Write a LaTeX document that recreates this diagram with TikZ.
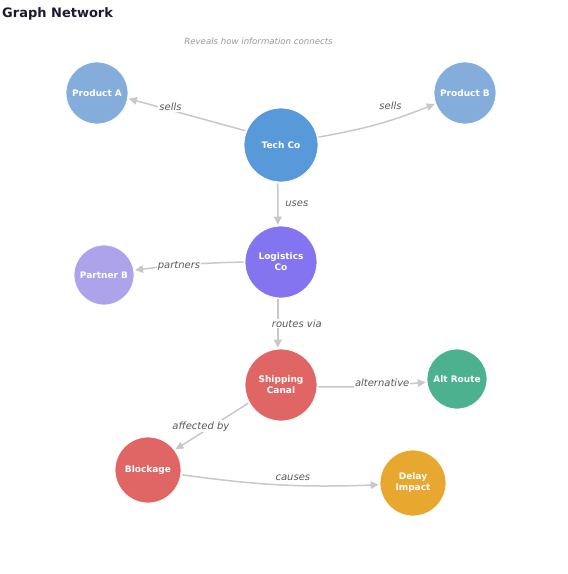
\documentclass[tikz,border=0pt]{standalone}
\usepackage{fontspec}
\setmainfont{DejaVu Sans}
\usepackage{xcolor}
\usetikzlibrary{arrows.meta}

\definecolor{prodblue}{HTML}{85ADDB}
\definecolor{techblue}{HTML}{5899DA}
\definecolor{logpurple}{HTML}{8474EF}
\definecolor{partpurple}{HTML}{ADA3EA}
\definecolor{canalred}{HTML}{E06666}
\definecolor{altgreen}{HTML}{4CB18F}
\definecolor{delayorange}{HTML}{E8A830}
\definecolor{linkgray}{HTML}{C8C8C8}
\definecolor{titlenavy}{HTML}{1B1B30}

\begin{document}
\begin{tikzpicture}[
    entity/.style={draw=white, line width=0.8pt, circle, inner sep=0pt, text=white, align=center, font=\fontsize{9}{11}\selectfont\bfseries},
    link/.style={draw=linkgray, line width=1.5pt, -{Triangle[length=8pt,width=7.5pt]}, shorten >=1pt, shorten <=1pt},
    elabel/.style={fill=white, inner sep=1pt, text=black!65, font=\fontsize{10}{12}\selectfont\itshape}
]
            \useasboundingbox (0,0) rectangle (568pt,-574pt);
            \node[anchor=base west, inner sep=0pt, text=titlenavy, font=\fontsize{13}{15}\selectfont\bfseries] (Title) at (2pt,-17.5pt) {Graph Network};
            \node[anchor=base, inner sep=0pt, text=black!40, font=\fontsize{8.6}{10}\selectfont\itshape] (Subtitle) at (258.5pt,-44pt) {Reveals how information connects};
            \node[entity, fill=techblue, minimum size=74pt] (TechCo) at (281pt,-145pt) {Tech Co};
            \node[entity, fill=prodblue, minimum size=62pt, node distance=184pt, left of=TechCo, yshift=52pt] (ProductA) {Product A};
            \node[entity, fill=prodblue, minimum size=62pt, node distance=184pt, right of=TechCo, yshift=52pt] (ProductB) {Product B};
            \node[entity, fill=logpurple, minimum size=72pt, node distance=117pt, below of=TechCo] (Logistics) {Logistics\\Co};
            \node[entity, fill=partpurple, minimum size=60pt, node distance=177pt, left of=Logistics, yshift=-13pt] (PartnerB) {Partner B};
            \node[entity, fill=canalred, minimum size=72pt, node distance=123pt, below of=Logistics] (Canal) {Shipping\\Canal};
            \node[entity, fill=altgreen, minimum size=60pt, node distance=176pt, right of=Canal, yshift=6pt] (AltRoute) {Alt Route};
            \node[entity, fill=canalred, minimum size=66pt, node distance=133pt, left of=Canal, yshift=-85pt] (Blockage) {Blockage};
            \node[entity, fill=delayorange, minimum size=66pt, node distance=265pt, right of=Blockage, yshift=-13pt] (Delay) {Delay\\Impact};
            \draw[link] (TechCo.158) -- node[elabel, pos=0.64, yshift=3pt] {sells} (ProductA.-10);
            \draw[link] (TechCo.12) to[bend right=6] node[elabel, pos=0.62, yshift=14pt] {sells} (ProductB.200);
            \draw[link] (TechCo.265) -- node[elabel, pos=0.5, xshift=19pt] {uses} (Logistics.95);
            \draw[link] (Logistics.180) to[bend right=3] node[elabel, pos=0.6, yshift=-1pt] {partners} (PartnerB.9);
            \draw[link] (Logistics.265) -- node[elabel, pos=0.5, xshift=19pt] {routes via} (Canal.95);
            \draw[link] (Canal.-3) to[bend right=3] node[elabel, pos=0.6, yshift=3pt] {alternative} (AltRoute.186);
            \draw[link] (Canal.209) -- node[elabel, pos=0.5, xshift=-11pt] {affected by} (Blockage.37);
            \draw[link] (Blockage.-8) to[bend right=5] node[elabel, pos=0.57, yshift=8pt] {causes} (Delay.183);
            \end{tikzpicture}
\end{document}
